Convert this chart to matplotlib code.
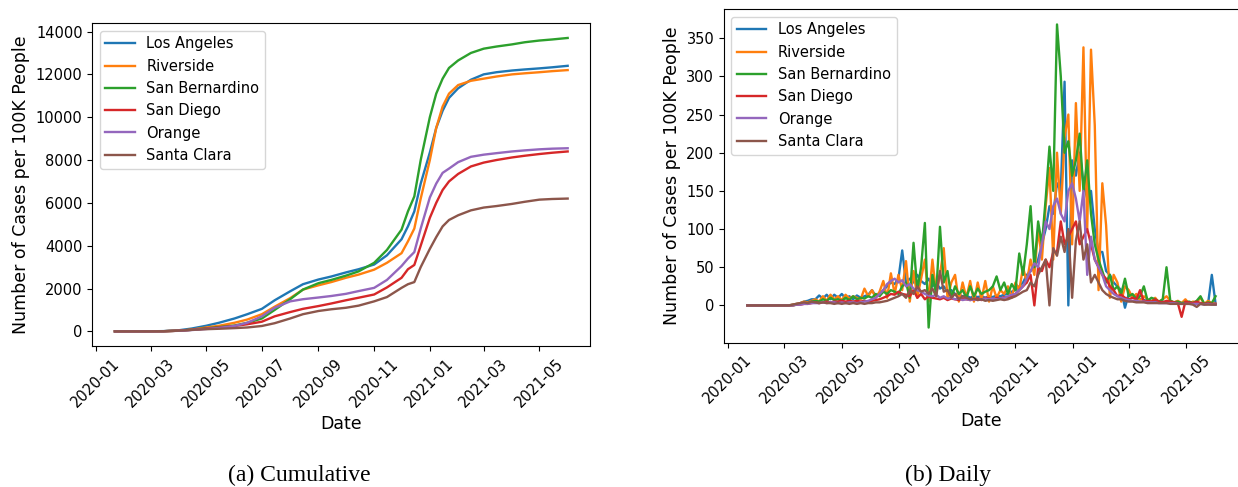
import matplotlib
matplotlib.use("Agg")
import matplotlib.pyplot as plt
import matplotlib.dates as mdates
import pandas as pd
import numpy as np

counties = ["Los Angeles", "Riverside", "San Bernardino", "San Diego", "Orange", "Santa Clara"]
colors = ["#1f77b4", "#ff7f0e", "#2ca02c", "#d62728", "#9467bd", "#8c564b"]

# ---- cumulative (per 100K) ----
cum_dates = ['2020-01-22', '2020-02-15', '2020-03-01', '2020-03-15', '2020-04-01', '2020-04-15',
             '2020-05-01', '2020-05-15', '2020-06-01', '2020-06-15', '2020-07-01', '2020-07-15',
             '2020-08-01', '2020-08-15', '2020-09-01', '2020-09-15', '2020-10-01', '2020-10-15',
             '2020-11-01', '2020-11-15', '2020-12-01', '2020-12-08', '2020-12-15', '2020-12-22',
             '2021-01-01', '2021-01-08', '2021-01-15', '2021-01-22', '2021-02-01', '2021-02-15',
             '2021-03-01', '2021-03-15', '2021-04-01', '2021-04-15', '2021-05-01', '2021-05-15',
             '2021-06-01']
cum_la = [0, 0, 2, 10, 50, 130, 260, 400, 600, 800, 1050, 1450, 1870, 2200, 2420, 2560, 2750, 2900,
          3120, 3550, 4300, 4900, 5600, 6900, 8350, 9500, 10300, 10900, 11350, 11750, 12000, 12100,
          12180, 12230, 12280, 12330, 12400]
cum_riv = [0, 0, 1, 5, 30, 80, 180, 260, 400, 550, 800, 1150, 1550, 1950, 2150, 2300, 2500, 2650,
           2880, 3200, 3650, 4200, 4800, 6200, 8000, 9500, 10500, 11100, 11500, 11700, 11800, 11900,
           12000, 12050, 12100, 12150, 12200]
cum_sb = [0, 0, 1, 5, 30, 70, 140, 200, 270, 400, 600, 1000, 1500, 1950, 2250, 2400, 2600, 2800,
          3200, 3800, 4750, 5600, 6300, 8000, 10000, 11100, 11800, 12300, 12650, 13000, 13200, 13300,
          13400, 13500, 13580, 13630, 13700]
cum_sd = [0, 0, 1, 5, 30, 70, 130, 180, 250, 330, 450, 700, 900, 1050, 1180, 1300, 1450, 1570,
          1720, 2050, 2500, 2900, 3100, 4000, 5300, 6000, 6600, 7000, 7350, 7700, 7880, 8000,
          8120, 8200, 8280, 8340, 8400]
cum_or = [0, 0, 1, 5, 25, 60, 110, 160, 250, 400, 700, 1100, 1400, 1500, 1580, 1650, 1750, 1880,
          2030, 2400, 3050, 3400, 3700, 4800, 6250, 6900, 7400, 7600, 7900, 8150, 8250, 8320,
          8400, 8450, 8500, 8530, 8550]
cum_sc = [0, 0, 1, 5, 30, 70, 100, 120, 150, 180, 250, 380, 600, 800, 950, 1030, 1100, 1200,
          1400, 1600, 2030, 2200, 2300, 3000, 3850, 4400, 4900, 5200, 5420, 5650, 5780, 5850,
          5950, 6050, 6150, 6180, 6200]

# ---- daily (per 100K), sampled every 4 days from 2020-01-22 ----
daily_start = '2020-01-22'
daily_n = 125
day_la = [0, 0, 0, 0, 0, 0, 0, 0, 0, 0,
          0, 0, 1, 2, 3, 5, 6, 8, 8, 13,
          9, 14, 8, 14, 10, 15, 9, 12, 8, 13,
          10, 12, 14, 20, 12, 15, 20, 25, 30, 28,
          35, 72, 30, 35, 30, 40, 32, 28, 35, 25,
          30, 22, 25, 18, 20, 15, 14, 12, 13, 10,
          12, 11, 12, 10, 12, 11, 13, 12, 14, 15,
          18, 20, 25, 30, 40, 45, 50, 60, 80, 100,
          130, 120, 160, 150, 293, 0, 190, 170, 200, 160,
          140, 150, 100, 70, 70, 45, 40, 30, 25, 20,
          -3, 15, 12, 10, 8, 7, 6, 6, 5, 5,
          5, 4, 4, 4, 4, 3, 3, 3, 3, 2,
          3, 2, 2, 40, 2]
day_riv = [0, 0, 0, 0, 0, 0, 0, 0, 0, 0,
           0, 0, 1, 2, 3, 5, 4, 6, 8, 5,
           12, 6, 14, 8, 12, 7, 14, 9, 12, 10,
           8, 22, 12, 20, 10, 18, 32, 10, 42, 15,
           40, 20, 58, 5, 45, 10, 35, 60, 5, 60,
           15, 40, 75, 10, 30, 40, 5, 30, 10, 32,
           5, 30, 8, 32, 5, 25, 10, 20, 15, 25,
           10, 30, 20, 50, 30, 60, 40, 100, 60, 130,
           180, 60, 200, 120, 220, 250, 80, 265, 150, 338,
           100, 335, 236, 20, 160, 105, 10, 40, 30, 5,
           25, 20, 10, 15, 5, 12, 8, 5, 10, 4,
           8, 12, 6, 4, 6, 3, 8, 2, 5, 4,
           10, 2, 6, 3, 2]
day_sb = [0, 0, 0, 0, 0, 0, 0, 0, 0, 0,
          0, 0, 0, 1, 2, 3, 3, 5, 6, 5,
          8, 6, 10, 7, 8, 6, 10, 7, 12, 8,
          10, 9, 12, 10, 15, 12, 18, 15, 20, 18,
          15, 25, 30, 10, 82, 20, 50, 108, -29, 40,
          15, 103, 30, 45, 10, 25, 15, 20, 10, 25,
          12, 22, 15, 18, 20, 25, 38, 20, 30, 15,
          28, 20, 68, 40, 80, 130, 50, 110, 80, 140,
          208, 150, 368, 300, 200, 215, 170, 190, 225, 150,
          190, 120, 80, 60, 45, 30, 40, 20, 25, 15,
          35, 12, 15, 8, 12, 25, 6, 10, 8, 5,
          8, 50, 6, 4, 5, 3, 4, 5, 3, 6,
          12, 2, 4, 3, 12]
day_sd = [0, 0, 0, 0, 0, 0, 0, 0, 0, 0,
          0, 0, 0, 1, 1, 2, 2, 3, 4, 3,
          4, 5, 4, 5, 5, 6, 5, 6, 5, 6,
          5, 6, 5, 6, 7, 8, 10, 12, 15, 14,
          18, 15, 14, 12, 20, 10, 15, 8, 12, 10,
          9, 8, 10, 7, 9, 8, 7, 9, 8, 7,
          8, 9, 7, 10, 9, 8, 10, 9, 11, 10,
          12, 15, 20, 25, 30, 40, 0, 50, 45, 60,
          50, 70, 70, 110, 80, 90, 100, 110, 80, 90,
          100, 80, 60, 50, 40, 35, 25, 20, 12, 14,
          10, 8, 10, 8, 20, 5, 6, 5, 8, 5,
          4, 6, 5, 4, 3, -15, 5, 4, 3, 5,
          3, 2, 3, 2, 2]
day_or = [0, 0, 0, 0, 0, 0, 0, 0, 0, 0,
          0, 0, 0, 1, 1, 2, 2, 3, 3, 3,
          4, 3, 4, 4, 3, 4, 3, 4, 4, 3,
          4, 5, 6, 8, 10, 15, 20, 28, 32, 35,
          30, 33, 25, 28, 22, 20, 18, 15, 13, 12,
          14, 10, 12, 9, 10, 8, 9, 7, 8, 7,
          8, 7, 8, 9, 8, 9, 8, 9, 10, 12,
          14, 15, 20, 25, 35, 45, 55, 50, 80, 110,
          100, 130, 140, 120, 110, 150, 160, 140, 110, 150,
          40, 90, 60, 50, 40, 25, 20, 15, 12, 10,
          8, 7, 6, 6, 5, 5, 4, 4, 4, 3,
          3, 3, 3, 3, 2, 2, 2, 2, 2, 2,
          2, 1, 2, 1, 1]
day_sc = [0, 0, 0, 0, 0, 0, 0, 0, 0, 0,
          0, 0, 1, 2, 3, 4, 3, 5, 4, 3,
          4, 3, 3, 2, 3, 2, 3, 2, 3, 2,
          3, 2, 3, 3, 4, 4, 5, 6, 8, 10,
          12, 15, 10, 20, 15, 25, 18, 20, 15, 22,
          12, 45, 18, 20, 10, 15, 8, 12, 10, 8,
          9, 7, 8, 6, 7, 6, 7, 8, 7, 8,
          10, 12, 15, 18, 20, 30, 25, 40, 50, 60,
          0, 75, 65, 90, 70, 100, 10, 85, 110, 60,
          80, 30, 40, 30, 20, 15, 12, 10, 8, 8,
          6, 5, 5, 4, 4, 4, 3, 3, 3, 3,
          3, 3, 2, 2, 2, 2, 2, 2, 1, -2,
          2, 1, 1, 1, 1]

cum_series = [cum_la, cum_riv, cum_sb, cum_sd, cum_or, cum_sc]
day_series = [day_la, day_riv, day_sb, day_sd, day_or, day_sc]

plt.rcParams['font.family'] = ['DejaVu Sans']
fig = plt.figure(figsize=(12.38, 4.87), dpi=100)

ax1 = fig.add_axes([92.3 / 1238, 1 - 346 / 487, (590.3 - 92.3) / 1238, (346 - 23.3) / 487])
ax2 = fig.add_axes([724 / 1238, 1 - 342.7 / 487, (1239 - 724) / 1238, (342.7 - 9.3) / 487])

cd = pd.to_datetime(cum_dates)
dd = pd.date_range(daily_start, periods=daily_n, freq='4D')

for name, col, vals in zip(counties, colors, cum_series):
    ax1.plot(cd, vals, color=col, lw=1.7, label=name)
for name, col, vals in zip(counties, colors, day_series):
    ax2.plot(dd, vals, color=col, lw=1.7, label=name)

for ax in (ax1, ax2):
    ax.xaxis.set_major_locator(mdates.MonthLocator(bymonth=[1, 3, 5, 7, 9, 11]))
    ax.xaxis.set_major_formatter(mdates.DateFormatter('%Y-%m'))
    ax.tick_params(labelsize=10.5)
    for lab in ax.get_xticklabels():
        lab.set_rotation(45)
    ax.set_xlabel('Date', fontsize=12.5)
    ax.set_ylabel('Number of Cases per 100K People', fontsize=12.5)
    ax.legend(loc='upper left', fontsize=10.5)

ax1.set_yticks([0, 2000, 4000, 6000, 8000, 10000, 12000, 14000])
ax2.set_yticks([0, 50, 100, 150, 200, 250, 300, 350])

fig.text(299 / 1238, 1 - 481 / 487, '(a) Cumulative', ha='center', va='baseline',
         fontsize=17, family='Liberation Serif')
fig.text(948.5 / 1238, 1 - 481 / 487, '(b) Daily', ha='center', va='baseline',
         fontsize=17, family='Liberation Serif')

fig.savefig('out.png', dpi=100)
